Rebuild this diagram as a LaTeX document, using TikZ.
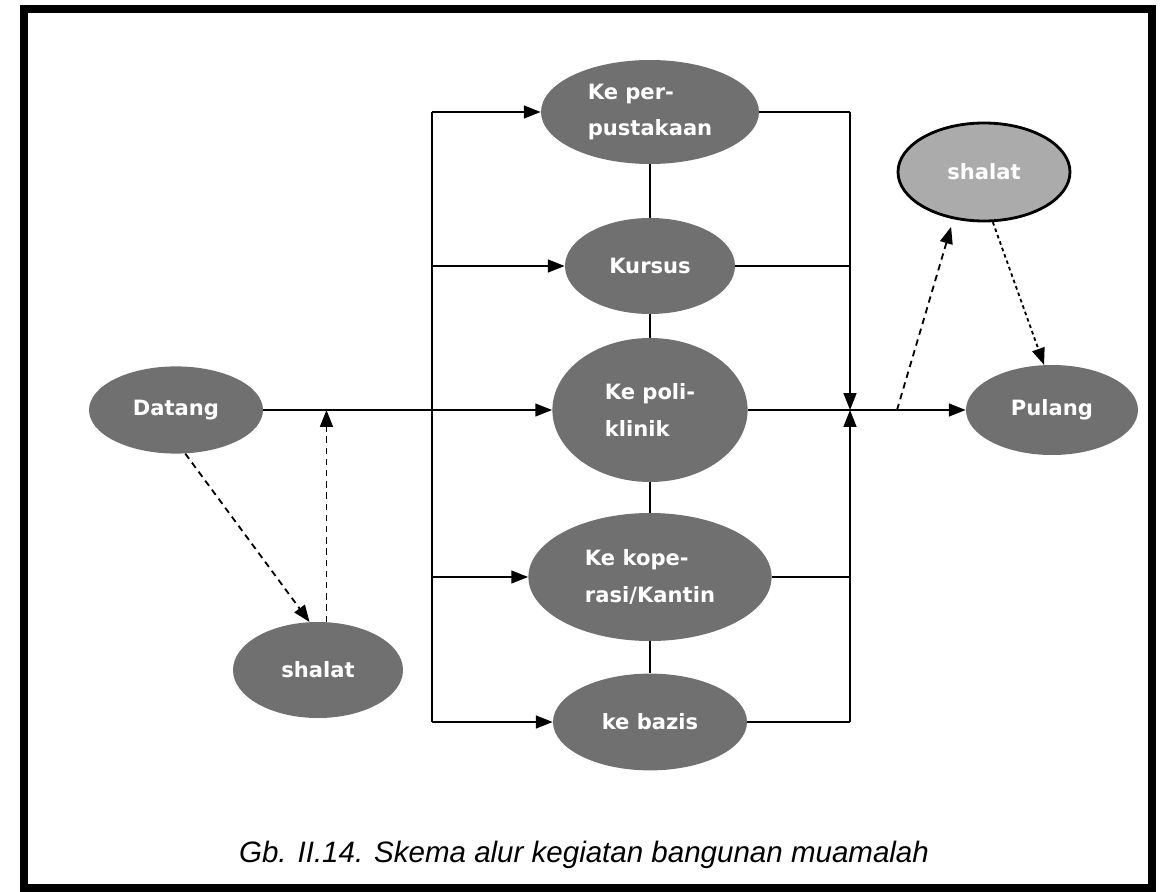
\documentclass[tikz,border=0pt]{standalone}
\usepackage{fontspec}
\setmainfont{Liberation Sans}
\newfontfamily\lblfont{DejaVu Sans}
\usetikzlibrary{shapes.geometric,arrows.meta}
\tikzset{
  act/.style={ellipse, fill=black!56, text=white, inner sep=0pt, align=left,
    font=\lblfont\bfseries\fontsize{15}{26}\selectfont},
  actring/.style={act, fill=black!33, draw=black, line width=2pt},
  link/.style={line width=1.3pt, draw=black},
  flow/.style={link, -{Triangle[length=4.2mm,width=3.2mm]}},
  detour/.style={flow, dash pattern=on 1.6mm off 1.2mm},
  detourfine/.style={flow, dash pattern=on 0.9mm off 0.8mm},
  frame/.style={line width=2mm, draw=black},
}

\begin{document}
\begin{tikzpicture}[x=0.25mm, y=-0.25mm]
  \useasboundingbox (0,0) rectangle (1169,892);
  \draw[frame] (24,9) rectangle (1152,888);
  % Kegiatan
  \node[act, minimum width=54.5mm, minimum height=26mm] (pust) at (650,112) {Ke per-\\pustakaan};
  \node[act, minimum width=42.5mm, minimum height=24mm] (kursus) at (650,266) {Kursus};
  \node[act, minimum width=48.8mm, minimum height=36mm] (poli) at (650,410) {Ke poli-\\klinik};
  \node[act, minimum width=60.8mm, minimum height=32mm] (kope) at (650,577) {Ke kope-\\rasi/Kantin};
  \node[act, minimum width=48.5mm, minimum height=24.2mm] (bazis) at (650,722) {ke bazis};
  \node[act, minimum width=43.5mm, minimum height=21.8mm] (datang) at (176,410) {Datang};
  \node[act, minimum width=42.5mm, minimum height=24mm] (shalat1) at (318,670) {shalat};
  \node[actring, minimum width=43mm, minimum height=24.5mm] (shalat2) at (984,172) {shalat};
  \node[act, minimum width=43mm, minimum height=22.5mm] (pulang) at (1052,410) {Pulang};
  % Verteiler
  \coordinate (vl) at (432,410);
  \coordinate (vr) at (850,410);
  \coordinate (dr) at (897,410);
  \draw[link] (pust -| vl) -- (bazis -| vl);
  \foreach \n in {pust,kursus,kope,bazis}{
    \draw[flow] (\n -| vl) -- (\n.west);
    \draw[link] (\n.east) -- (\n -| vr);
  }
  \draw[link] (pust) -- (kursus);
  \draw[link] (kursus) -- (poli);
  \draw[link] (poli) -- (kope);
  \draw[link] (kope) -- (bazis);
  \draw[flow] (pust -| vr) -- (vr);
  \draw[flow] (bazis -| vr) -- (vr);
  \draw[flow] (datang) -- (poli);
  \draw[flow] (poli) -- (pulang);
  % Shalat
  \draw[detour] (datang.-78) -- (shalat1.100);
  \draw[detour] (shalat1.80) -- (shalat1.80 |- datang);
  \draw[detour, shorten >=2mm] (dr) -- (shalat2.237);
  \draw[detourfine] (shalat2.-80) -- (pulang.100);
  \node[font=\itshape\fontsize{21}{24}\selectfont] (caption) at (584,855) {Gb. II.14. Skema alur kegiatan bangunan muamalah};
\end{tikzpicture}
\end{document}
